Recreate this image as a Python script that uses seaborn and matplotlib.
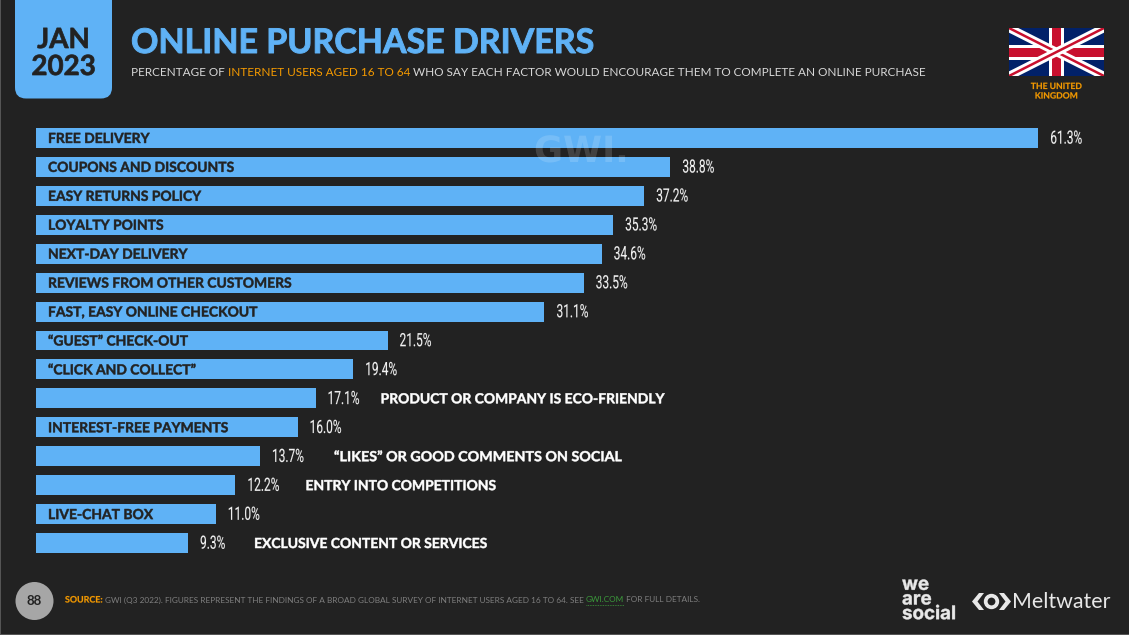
import matplotlib
matplotlib.use("Agg")
import matplotlib.pyplot as plt
import pandas as pd
import seaborn as sns
from matplotlib.patches import FancyBboxPatch, Rectangle, Circle, Polygon
from matplotlib.patheffects import AbstractPathEffect
from matplotlib.transforms import Affine2D

factors = ["FREE DELIVERY", "COUPONS AND DISCOUNTS", "EASY RETURNS POLICY", "LOYALTY POINTS",
           "NEXT-DAY DELIVERY", "REVIEWS FROM OTHER CUSTOMERS", "FAST, EASY ONLINE CHECKOUT",
           "“GUEST” CHECK-OUT", "“CLICK AND COLLECT”", "PRODUCT OR COMPANY IS ECO-FRIENDLY",
           "INTEREST-FREE PAYMENTS", "“LIKES” OR GOOD COMMENTS ON SOCIAL", "ENTRY INTO COMPETITIONS",
           "LIVE-CHAT BOX", "EXCLUSIVE CONTENT OR SERVICES"]
values = [61.3, 38.8, 37.2, 35.3, 34.6, 33.5, 31.1, 21.5, 19.4, 17.1, 16.0, 13.7, 12.2, 11.0, 9.3]
outside_factors = ["PRODUCT OR COMPANY IS ECO-FRIENDLY", "“LIKES” OR GOOD COMMENTS ON SOCIAL",
                   "ENTRY INTO COMPETITIONS", "EXCLUSIVE CONTENT OR SERVICES"]

BG = "#222222"
BLUE = "#5FB2F6"
ORANGE = "#F59A00"
DARK = "#222222"
W, H = 1129, 635


class Shape(AbstractPathEffect):
    """Stretch a text horizontally about its origin and thicken its strokes."""

    def __init__(self, sx=1.0, stroke=0.0):
        super().__init__()
        self.sx, self.stroke = sx, stroke

    def draw_path(self, renderer, gc, tpath, affine, rgbFace=None):
        tr = Affine2D().scale(self.sx, 1) + affine
        gc0 = renderer.new_gc()
        gc0.copy_properties(gc)
        if self.stroke > 0:
            gc0.set_foreground(rgbFace)
            gc0.set_linewidth(self.stroke)
        else:
            gc0.set_linewidth(0)
        renderer.draw_path(gc0, tpath, tr, rgbFace)
        gc0.restore()


sns.set_theme(style="dark")
plt.rcParams["font.family"] = ["Lato", "DejaVu Sans"]

fig = plt.figure(figsize=(W / 100, H / 100), dpi=100, facecolor=BG)

# bar panel
px_per_unit = 16.35
left, top, bottom = 36, 123.5, 557.5
ax = fig.add_axes([left / W, 1 - bottom / H, (W - left) / W, (bottom - top) / H], facecolor="none")
df = pd.DataFrame({"factor": factors, "value": values})
sns.barplot(data=df, x="value", y="factor", color=BLUE, saturation=1, width=0.69, ax=ax, orient="h",
            edgecolor="none", linewidth=0)
ax.set_xlim(0, (W - left) / px_per_unit)
ax.set_axis_off()

outside_offset = {"PRODUCT OR COMPANY IS ECO-FRIENDLY": 65, "“LIKES” OR GOOD COMMENTS ON SOCIAL": 74,
                  "ENTRY INTO COMPETITIONS": 70, "EXCLUSIVE CONTENT OR SERVICES": 66}
bold = [Shape(1.0, 0.35)]
for i, (f, v) in enumerate(zip(factors, values)):
    ax.annotate(f"{v:.1f}%", (v, i), xytext=(12 * 0.72, -0.5), textcoords="offset points",
                va="center", ha="left", color="#F2F2F2", fontsize=13.2, family="Roboto",
                path_effects=[Shape(0.65, 0.1)])
    if f in outside_factors:
        ax.annotate(f, (v, i), xytext=(outside_offset[f] * 0.72, -0.7), textcoords="offset points",
                    va="center", ha="left", color="white", fontsize=10, fontweight="bold",
                    path_effects=[Shape(1.03, 0.35)] if f.startswith("“") else bold)
    else:
        ax.annotate(f, (0, i), xytext=(12 * 0.72, -0.7), textcoords="offset points",
                    va="center", ha="left", color=DARK, fontsize=10, fontweight="bold", path_effects=bold)

# overlay in pixel coordinates
ov = fig.add_axes([0, 0, 1, 1], facecolor="none")
ov.set_xlim(0, W)
ov.set_ylim(H, 0)
ov.set_axis_off()
ov.set_zorder(3)

ov.add_patch(Rectangle((0, 0), 1, H, color="#555555", lw=0))
ov.add_patch(Rectangle((0, H - 1), W, 1, color="#555555", lw=0))

ov.add_patch(FancyBboxPatch((15, -30), 97, 128.5, boxstyle="round,pad=0,rounding_size=11",
                            fc=BLUE, ec="none", lw=0))
ov.text(63.5, 40, "JAN", ha="center", va="center", fontsize=20, fontweight="bold", color=DARK,
        path_effects=[Shape(1.0, 0.5)])
ov.text(63.5, 67, "2023", ha="center", va="center", fontsize=20, fontweight="bold", color=DARK,
        path_effects=[Shape(1.0, 0.5)])

ov.text(131, 43, "ONLINE PURCHASE DRIVERS", ha="left", va="center", fontsize=24.45, fontweight="bold", color=BLUE,
        path_effects=[Shape(1.0, 0.7)])


def run(x, y, parts, size, weight="normal"):
    renderer = fig.canvas.get_renderer()
    for s, c in parts:
        t = ov.text(x, y, s, ha="left", va="center", fontsize=size, color=c, fontweight=weight)
        x = t.get_window_extent(renderer).x1
    return x


run(131, 72, [("PERCENTAGE OF ", "#D8D8D8"), ("INTERNET USERS AGED 16 TO 64", ORANGE),
              (" WHO SAY EACH FACTOR WOULD ENCOURAGE THEM TO COMPLETE AN ONLINE PURCHASE", "#D8D8D8")], 8.5)

# GWI watermark
ov.text(534, 152, "GWI.", ha="left", va="center", fontsize=26, family="DejaVu Sans", fontweight="bold",
        color="white", alpha=0.15, path_effects=[Shape(0.98, 0)])

# flag
fx0, fx1, fy0, fy1 = 1009, 1104, 28, 76
cx, cy = (fx0 + fx1) / 2, (fy0 + fy1) / 2
clip = Rectangle((fx0, fy0), fx1 - fx0, fy1 - fy0, transform=ov.transData)
ov.add_patch(Rectangle((fx0, fy0), fx1 - fx0, fy1 - fy0, fc="#012169", ec="none"))
for xs, ys in [((fx0, fx1), (fy0, fy1)), ((fx0, fx1), (fy1, fy0))]:
    l, = ov.plot(xs, ys, color="white", lw=6, solid_capstyle="butt")
    l.set_clip_path(clip)
    l, = ov.plot(xs, ys, color="#C8102E", lw=1.8, solid_capstyle="butt")
    l.set_clip_path(clip)
ov.add_patch(Rectangle((cx - 7.5, fy0), 15, fy1 - fy0, fc="white", ec="none"))
ov.add_patch(Rectangle((fx0, cy - 7.5), fx1 - fx0, 15, fc="white", ec="none"))
ov.add_patch(Rectangle((cx - 4.5, fy0), 9, fy1 - fy0, fc="#C8102E", ec="none"))
ov.add_patch(Rectangle((fx0, cy - 4.5), fx1 - fx0, 9, fc="#C8102E", ec="none"))
ov.text(1056.5, 86.5, "THE UNITED", ha="center", va="center", fontsize=6.2, fontweight="bold", color=ORANGE,
        path_effects=[Shape(1.0, 0.15)])
ov.text(1056.5, 96, "KINGDOM", ha="center", va="center", fontsize=6.2, fontweight="bold", color=ORANGE,
        path_effects=[Shape(1.0, 0.15)])

# footer
ov.add_patch(Circle((34.5, 601), 19, fc="#A6A6A6", ec="none"))
ov.text(34.5, 601, "88", ha="center", va="center", fontsize=9.5, fontweight="bold", color=DARK)
ov.text(65, 600, "SOURCE:", ha="left", va="center", fontsize=6.4, fontweight="bold", color=ORANGE,
        path_effects=[Shape(1.0, 0.15)])
fx = run(105, 600, [("GWI (Q3 2022). FIGURES REPRESENT THE FINDINGS OF A BROAD GLOBAL SURVEY OF INTERNET USERS AGED 16 TO 64. SEE ", "#7F7F7F")], 5.95)
gx = run(fx, 600, [("GWI.COM", "#3B9A3B")], 5.95)
ov.plot([fx, gx], [605, 605], color="#3B9A3B", lw=0.6, ls=(0, (1, 1)))
run(gx, 600, [(" FOR FULL DETAILS.", "#7F7F7F")], 5.95)

ov.text(902, 600, "we\nare\nsocial", ha="left", va="center", fontsize=13.5, family="Inter", fontweight="bold",
        color="#E8E8E8", linespacing=0.82, path_effects=[Shape(1.0, 0.3)])
ov.add_patch(Polygon([[979, 593], [972, 601.5], [979, 610], [984, 610], [977.5, 601.5], [984, 593]], fc="#E8E8E8", ec="none"))
ov.add_patch(Polygon([[1004, 593], [1011, 601.5], [1004, 610], [999, 610], [1005.5, 601.5], [999, 593]], fc="#E8E8E8", ec="none"))
ov.add_patch(Circle((991.5, 601.5), 5.8, fc="none", ec="#E8E8E8", lw=2.7))
ov.text(1012, 602, "Meltwater", ha="left", va="center", fontsize=15.4, color="#E8E8E8")

fig.savefig("out.png", dpi=100, facecolor=BG)
